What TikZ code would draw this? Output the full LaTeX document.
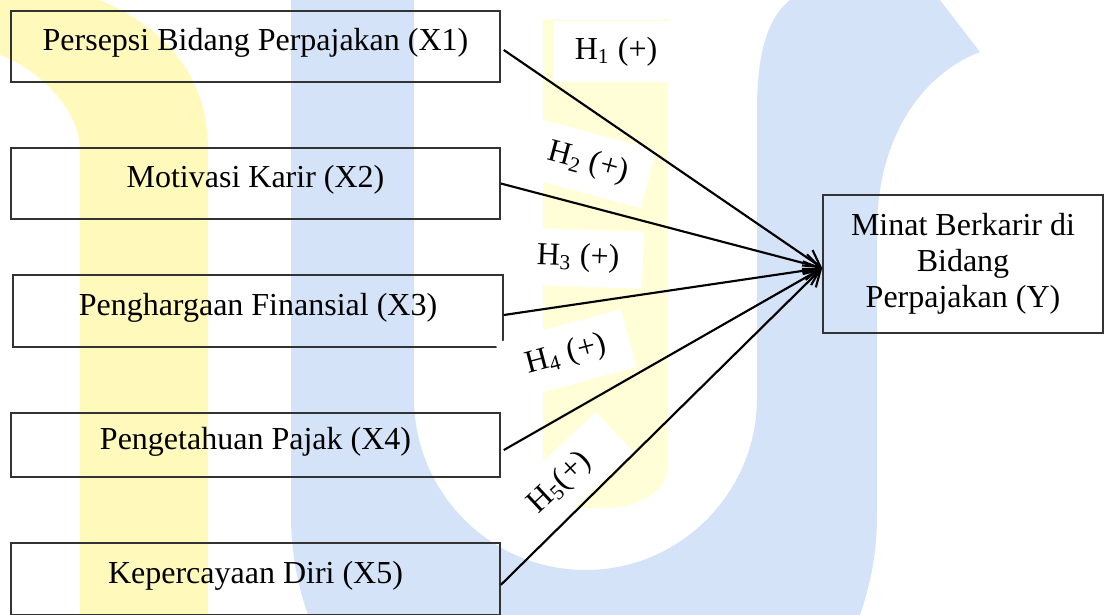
\documentclass[tikz,border=0pt]{standalone}
\usepackage{fontspec}
\setmainfont{Liberation Serif}
\usetikzlibrary{positioning, arrows.meta}
\definecolor{wmblue}{RGB}{213,227,248}
\definecolor{wmyellow}{RGB}{255,250,188}
\definecolor{wmpale}{RGB}{255,254,214}

\begin{document}
\begin{tikzpicture}[x=0.375pt, y=-0.375pt,
  every node/.style={font=\fontsize{12}{13.5}\selectfont},
  box/.style={draw=black!80, line width=0.6pt, inner sep=0pt},
  varbox/.style={box, minimum width=183.4pt, minimum height=26.6pt, text depth=5pt},
  hyplabel/.style={fill=white, inner sep=0pt},
  hyp/.style={-{Straight Barb[length=6pt, width=7pt]}, line width=0.8pt}]

\useasboundingbox (0,0) rectangle (1106,614);
\clip (0,0) rectangle (1106,614);

% watermark
\fill[wmyellow] (0,0) -- (100,0) .. controls (170,30) and (208,80) .. (208,150) -- (208,614) -- (80,614) -- (80,150) .. controls (80,110) and (40,70) .. (0,55) -- cycle;
\fill[wmpale] (543,20) -- (668,20) -- (668,465) .. controls (668,490) and (640,508) .. (605,508) -- (543,508) -- cycle;
\fill[wmblue] (291,0) -- (291,516) .. controls (291,677.8) and (422.2,809) .. (584,809) .. controls (745.8,809) and (877,677.8) .. (877,516) -- (877,230) .. controls (877,140) and (920,75) .. (980,52) -- (940,0) -- (790,0) .. controls (765,20) and (757,60) .. (757,110) -- (757,398) .. controls (757,492.7) and (680.2,570) .. (585.5,570) .. controls (490.8,570) and (414,492.7) .. (414,398) -- (414,0) -- cycle;

% variables
\node[varbox] (x1) at (255.5,46.5) {Persepsi Bidang Perpajakan (X1)};
\node[varbox] (x2) at (255.5,183.5) {Motivasi Karir (X2)};
\node[varbox, minimum width=183.75pt, minimum height=27pt] (x3) at (258,311) {Penghargaan Finansial (X3)};
\node[varbox, minimum height=24pt] (x4) at (255.5,445) {Pengetahuan Pajak (X4)};
\node[varbox, minimum height=27pt] (x5) at (255.5,579) {Kepercayaan Diri (X5)};

% hypotheses
\node[hyplabel, minimum width=47.25pt, minimum height=22.9pt] (h1) at (616,51.5) {H\textsubscript{1} (+)};
\node[hyplabel, minimum width=46.9pt, minimum height=22.5pt, rotate=-15] (h2) at (588,163) {H\textsubscript{2} (+)};
\node[hyplabel, minimum width=48.75pt, minimum height=21.4pt, rotate=-2] (h3) at (578,258) {H\textsubscript{3} (+)};
\node[hyplabel, minimum width=48.75pt, minimum height=22.5pt, rotate=15] (h4) at (566,355) {H\textsubscript{4} (+)};
\node[hyplabel, minimum width=56pt, minimum height=20.6pt, rotate=43] (h5) at (560,483) {H\textsubscript{5}(+)};

\node[box, minimum width=105pt, minimum height=51.75pt, align=center] (y) at (963,264) {Minat Berkarir di\\Bidang\\Perpajakan (Y)};
\coordinate (tip) at ([yshift=-1.5pt]y.west);

\draw[hyp] ([xshift=1.1pt, yshift=-1.3pt]x1.east) -- (tip);
\draw[hyp] (x2.east) -- (tip);
\draw[hyp] ([yshift=-1.5pt]x3.east) -- (tip);
\draw[hyp] ([xshift=1.1pt, yshift=-1.9pt]x4.east) -- (tip);
\draw[hyp] ([yshift=-2.2pt]x5.east) -- (tip);

\end{tikzpicture}
\end{document}
